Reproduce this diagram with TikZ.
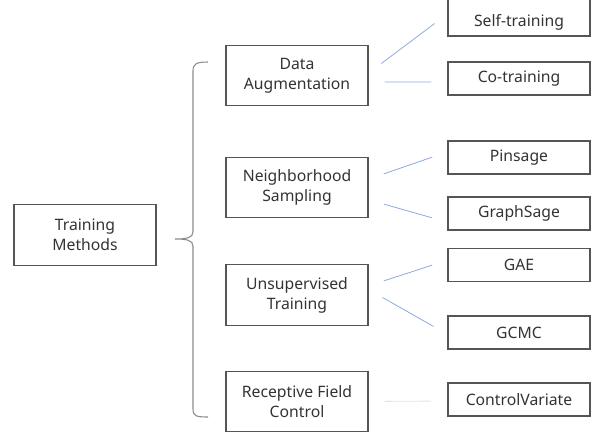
\documentclass[tikz,border=0pt]{standalone}
\usepackage{fontspec}
\setmainfont{Noto Sans}
\usepackage{xcolor}
\definecolor{mgray}{HTML}{555555}
\definecolor{mtext}{HTML}{333333}
\definecolor{mlink}{HTML}{8FA8E0}
\definecolor{mfaint}{HTML}{DCE3F2}
\definecolor{mbrace}{HTML}{8A8A8A}
\usetikzlibrary{positioning}
\tikzset{
  box/.style={draw=mgray,line width=0.9pt,text=mtext,align=center,
    font=\fontsize{11.8}{15}\selectfont,inner sep=2pt},
  box main/.style={box,minimum width=106.5pt,minimum height=45.5pt},
  box leaf/.style={box,minimum width=106.5pt,minimum height=24.75pt},
  link/.style={mlink,line width=0.6pt,shorten <=12pt,shorten >=12pt},
  link faint/.style={link,mfaint},
  brace/.style={mbrace,line width=0.8pt}
}

\begin{document}
\begin{tikzpicture}[x=0.75pt,y=-0.75pt]

  \useasboundingbox (0,0) rectangle (595,432);

  % Root
  \node[box main] (tm) at (85,235) {Training\\Methods};

  % Methods
  \node[box main] (da) at (297,75.5)  {Data\\Augmentation};
  \node[box main] (ns) at (297,187.5) {Neighborhood\\Sampling};
  \node[box main] (ut) at (297,295)   {Unsupervised\\Training};
  \node[box main] (rf) at (297,401.5) {Receptive Field\\Control};

  % Examples
  \node[box leaf,minimum height=27.75pt,text height=16pt] (st) at (519,17.5) {Self-training};
  \node[box leaf] (ct)   at (519,78.5)  {Co-training};
  \node[box leaf] (ps)   at (519,157.5) {Pinsage};
  \node[box leaf] (gs)   at (519,213.5) {GraphSage};
  \node[box leaf] (gae)  at (519,265)   {GAE};
  \node[box leaf] (gcmc) at (519,332.5) {GCMC};
  \node[box leaf] (cv)   at (519,399.5) {ControlVariate};

  % Brace
  \coordinate (bt) at (208,62);
  \coordinate (bb) at (208,417);
  \coordinate (tip) at (175,239);
  \draw[brace] (bt) .. controls (196,62) and (193,64) .. (193,71)
    -- (193,232) .. controls (193,238) and (186,239) .. (tip)
    .. controls (186,239) and (193,240) .. (193,246)
    -- (193,409) .. controls (193,416) and (196,417) .. (bb);

  % Methods -> examples
  \draw[link] ([yshift=1.8pt]da.east) -- ([yshift=2.7pt]st.west);
  \draw[link] ([yshift=-4.9pt]da.east) -- ([yshift=-2.6pt]ct.west);
  \draw[link] ([yshift=6.3pt]ns.east) -- ([yshift=4.2pt]ps.west);
  \draw[link] ([yshift=-9.2pt]ns.east) -- ([yshift=-6.5pt]gs.west);
  \draw[link] ([yshift=6.9pt]ut.east) -- ([yshift=3.6pt]gae.west);
  \draw[link] ([yshift=4.1pt]ut.east) -- ([yshift=-1.4pt]gcmc.west);
  \draw[link faint] (rf.east) -- ([yshift=-1.1pt]cv.west);

\end{tikzpicture}
\end{document}
